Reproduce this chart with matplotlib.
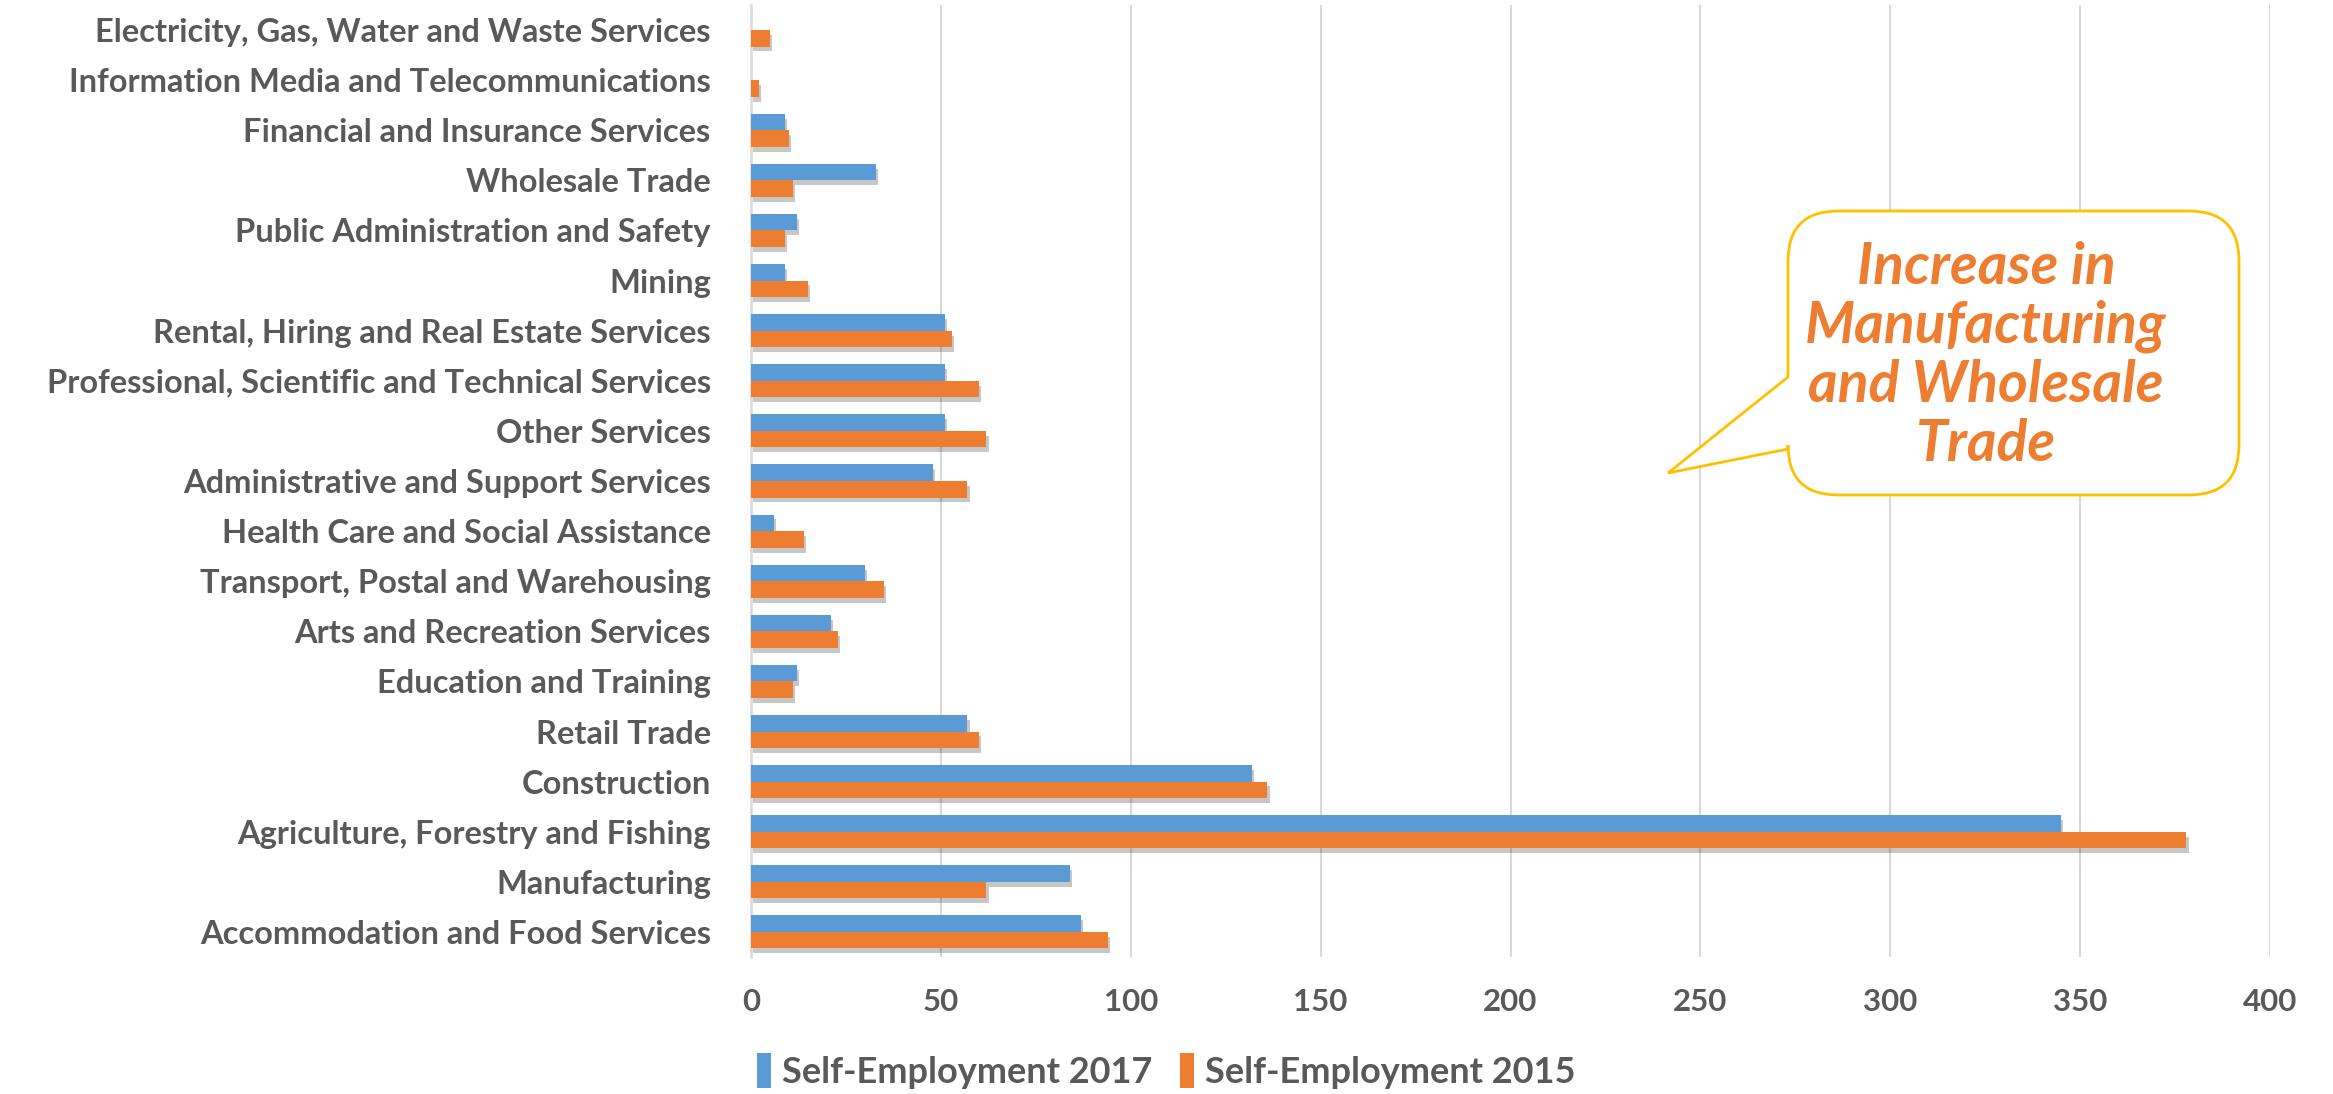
import matplotlib
matplotlib.use("Agg")
import matplotlib.pyplot as plt
import numpy as np
from matplotlib.path import Path
from matplotlib.patches import PathPatch, Patch
import matplotlib.patheffects as pe

plt.rcParams['font.family'] = ['Lato', 'DejaVu Sans']

categories = [
    "Electricity, Gas, Water and Waste Services",
    "Information Media and Telecommunications",
    "Financial and Insurance Services",
    "Wholesale Trade",
    "Public Administration and Safety",
    "Mining",
    "Rental, Hiring and Real Estate Services",
    "Professional, Scientific and Technical Services",
    "Other Services",
    "Administrative and Support Services",
    "Health Care and Social Assistance",
    "Transport, Postal and Warehousing",
    "Arts and Recreation Services",
    "Education and Training",
    "Retail Trade",
    "Construction",
    "Agriculture, Forestry and Fishing",
    "Manufacturing",
    "Accommodation and Food Services",
]
self_emp_2017 = [0, 0, 9, 33, 12, 9, 51, 51, 51, 48, 6, 30, 21, 12, 57, 132, 345, 84, 87]
self_emp_2015 = [5, 2, 10, 11, 9, 15, 53, 60, 62, 57, 14, 35, 23, 11, 60, 136, 378, 62, 94]
series_names = ["Self-Employment 2017", "Self-Employment 2015"]
x_ticks = [0, 50, 100, 150, 200, 250, 300, 350, 400]
callout_text = "Increase in\nManufacturing\nand Wholesale\nTrade"

BLUE = "#5B9BD5"
ORANGE = "#ED7D31"
GRAY = "#595959"
GRID = "#D9D9D9"

W, H = 2333, 1094
fig = plt.figure(figsize=(W / 100, H / 100), dpi=100)
ax = fig.add_axes([751 / W, 1 - 957 / H, (2270 - 751) / W, (957 - 5) / H])

y = np.arange(len(categories))
h = 0.33
shadow = [pe.SimplePatchShadow(offset=(1.5, -3.5), alpha=0.22, shadow_rgbFace="#000000"), pe.Normal()]
ax.barh(y - h / 2, self_emp_2017, height=h, color=BLUE, label=series_names[0],
        path_effects=shadow, zorder=3)
ax.barh(y + h / 2, self_emp_2015, height=h, color=ORANGE, label=series_names[1],
        path_effects=shadow, zorder=3)

ax.set_ylim(len(categories) - 0.5, -0.5)
ax.set_xlim(0, 400)
ax.set_xticks(x_ticks)
ax.set_yticks(y)
ax.set_yticklabels(categories)
ax.grid(axis='x', color=GRID, linewidth=1.5, zorder=0)
ax.set_axisbelow(True)
for s in ['top', 'right', 'bottom']:
    ax.spines[s].set_visible(False)
ax.spines['left'].set_color(GRID)
ax.spines['left'].set_linewidth(1.8)
ax.tick_params(axis='y', length=0, labelsize=23.5, labelcolor=GRAY, pad=29)
ax.tick_params(axis='x', length=0, labelsize=22.5, labelcolor=GRAY, pad=22)
for lbl in ax.get_xticklabels() + ax.get_yticklabels():
    lbl.set_fontweight('bold')

handles = [Patch(facecolor=BLUE), Patch(facecolor=ORANGE)]
leg = fig.legend(handles, series_names, loc='center left', bbox_to_anchor=(757 / W, 1 - 1071 / H),
                 ncol=2, frameon=False, borderpad=0, borderaxespad=0,
                 handlelength=0.4, handleheight=1.1, handletextpad=0.3,
                 columnspacing=0.75, prop={'weight': 'bold', 'size': 26})
for t in leg.get_texts():
    t.set_color(GRAY)

# Callout (pixel coordinates, y measured from top)
L, R, T, B, r = 1788, 2239, 211, 495, 50
tail_top, tail_bot, tip = 377, 449, (1668, 473)
verts = [
    (L + r, T), (R - r, T), (R, T), (R, T + r), (R, B - r), (R, B), (R - r, B),
    (L + r, B), (L, B), (L, B - r), (L, tail_bot), tip, (L, tail_top), (L, T + r),
    (L, T), (L + r, T), (L + r, T),
]
codes = [
    Path.MOVETO, Path.LINETO, Path.CURVE3, Path.CURVE3, Path.LINETO, Path.CURVE3, Path.CURVE3,
    Path.LINETO, Path.CURVE3, Path.CURVE3, Path.LINETO, Path.LINETO, Path.LINETO, Path.LINETO,
    Path.CURVE3, Path.CURVE3, Path.CLOSEPOLY,
]
verts_fig = [(vx / W, 1 - vy / H) for vx, vy in verts]
callout = PathPatch(Path(verts_fig, codes), transform=fig.transFigure, facecolor='white',
                    edgecolor='#FFC000', linewidth=2, zorder=10)
fig.patches.append(callout)
fig.text(1986 / W, 1 - 356 / H, callout_text, ha='center', va='center', color=ORANGE,
         fontsize=41, fontweight='bold', fontstyle='italic', linespacing=1.13, zorder=11)

fig.savefig("out.png", dpi=100, facecolor='white')
